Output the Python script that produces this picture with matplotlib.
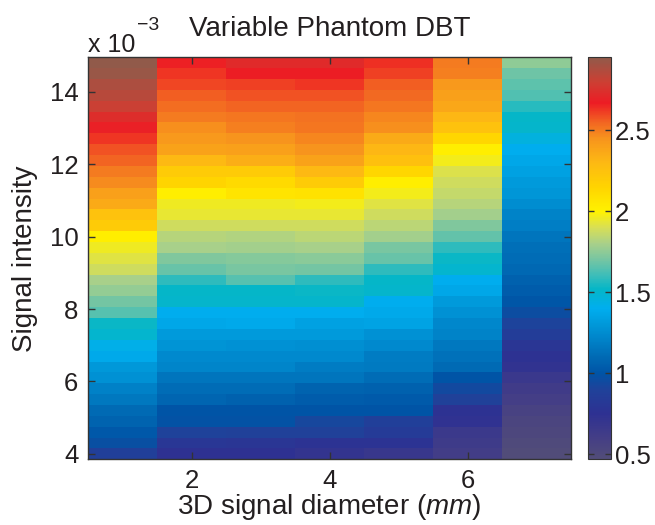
import numpy as np
import matplotlib
matplotlib.use("Agg")
import matplotlib.pyplot as plt
from matplotlib.colors import LinearSegmentedColormap
from matplotlib.ticker import FuncFormatter

plt.rcParams['font.family'] = ['Liberation Sans', 'DejaVu Sans']
plt.rcParams['mathtext.fontset'] = 'custom'
plt.rcParams['mathtext.rm'] = 'Liberation Sans'
plt.rcParams['mathtext.it'] = 'Liberation Sans:italic'

# ---------------- data ----------------
diameters = [1, 2, 3, 4, 5, 6, 7]  # mm
intensity_e3 = [4.0, 4.3, 4.6, 4.9, 5.2, 5.5, 5.8, 6.1, 6.4, 6.7, 7.0, 7.3, 7.6,
                7.9, 8.2, 8.5, 8.8, 9.1, 9.4, 9.7, 10.0, 10.3, 10.6, 10.9, 11.2,
                11.5, 11.8, 12.1, 12.4, 12.7, 13.0, 13.3, 13.6, 13.9, 14.2, 14.5, 14.8]

# values per diameter column, listed from top (14.8e-3) to bottom (4.0e-3)
d1 = [2.95, 2.93, 2.88, 2.85, 2.80, 2.73, 2.68, 2.63, 2.58, 2.55, 2.50, 2.47, 2.40,
      2.36, 2.25, 2.20, 2.02, 1.96, 1.92, 1.88, 1.80, 1.76, 1.70, 1.65, 1.53, 1.50,
      1.42, 1.38, 1.30, 1.27, 1.20, 1.16, 1.10, 1.07, 1.02, 0.97, 0.88]
d2 = [2.66, 2.63, 2.60, 2.56, 2.53, 2.50, 2.46, 2.43, 2.39, 2.30, 2.20, 2.15, 2.02,
      1.96, 1.94, 1.88, 1.83, 1.80, 1.72, 1.68, 1.58, 1.52, 1.51, 1.40, 1.37, 1.31,
      1.28, 1.24, 1.22, 1.15, 1.11, 1.08, 1.00, 0.99, 0.90, 0.80, 0.75]
d3 = [2.72, 2.67, 2.61, 2.58, 2.55, 2.51, 2.49, 2.45, 2.40, 2.34, 2.20, 2.12, 2.07,
      1.96, 1.94, 1.88, 1.82, 1.79, 1.73, 1.71, 1.65, 1.52, 1.51, 1.40, 1.38, 1.31,
      1.27, 1.24, 1.22, 1.15, 1.11, 1.06, 1.00, 0.99, 0.89, 0.79, 0.75]
d4 = [2.72, 2.67, 2.63, 2.58, 2.55, 2.52, 2.51, 2.48, 2.45, 2.39, 2.30, 2.20, 2.08,
      1.97, 1.94, 1.88, 1.84, 1.80, 1.74, 1.70, 1.58, 1.53, 1.51, 1.40, 1.34, 1.31,
      1.26, 1.24, 1.18, 1.15, 1.07, 1.04, 1.00, 0.93, 0.89, 0.77, 0.72]
d5 = [2.64, 2.61, 2.56, 2.54, 2.51, 2.48, 2.46, 2.36, 2.31, 2.26, 2.14, 2.02, 1.97,
      1.92, 1.88, 1.84, 1.79, 1.71, 1.68, 1.58, 1.52, 1.51, 1.40, 1.38, 1.35, 1.27,
      1.24, 1.18, 1.17, 1.11, 1.06, 1.03, 1.00, 0.88, 0.84, 0.77, 0.68]
d6 = [2.50, 2.49, 2.43, 2.40, 2.37, 2.31, 2.25, 2.14, 2.02, 1.97, 1.91, 1.88, 1.86,
      1.83, 1.79, 1.72, 1.67, 1.58, 1.53, 1.50, 1.40, 1.37, 1.31, 1.27, 1.23, 1.21,
      1.16, 1.13, 1.10, 1.00, 0.94, 0.89, 0.76, 0.74, 0.66, 0.64, 0.62]
d7 = [1.75, 1.69, 1.66, 1.64, 1.57, 1.52, 1.51, 1.45, 1.40, 1.37, 1.34, 1.31, 1.29,
      1.25, 1.21, 1.19, 1.15, 1.12, 1.11, 1.09, 1.06, 1.04, 1.01, 0.96, 0.91, 0.86,
      0.79, 0.76, 0.73, 0.67, 0.63, 0.60, 0.57, 0.54, 0.52, 0.50, 0.48]

yticks_e3 = [4, 6, 8, 10, 12, 14]
xticks = [2, 4, 6]
cbar_ticks = [0.5, 1, 1.5, 2, 2.5]
vmin, vmax = 0.47, 2.95

# ---------------- colormap ----------------
anchors = [(0.47, '#524d78'), (0.60, '#443e86'), (0.75, '#2e3192'), (0.90, '#1f429a'),
           (1.00, '#0054a6'), (1.10, '#006ab4'), (1.20, '#0081c7'), (1.30, '#0098d9'),
           (1.40, '#00aeef'), (1.52, '#05b6c7'), (1.60, '#3abdba'), (1.70, '#75c5a3'),
           (1.80, '#a8d08a'), (1.90, '#d8df55'), (2.00, '#fff200'), (2.15, '#ffd400'),
           (2.30, '#fdb913'), (2.45, '#f7941d'), (2.55, '#f26522'), (2.67, '#ed1c24'),
           (2.80, '#cc3f33'), (2.95, '#915a4a')]
cmap = LinearSegmentedColormap.from_list(
    'custom', [((v - vmin) / (vmax - vmin), c) for v, c in anchors], N=512)

# ---------------- figure ----------------
W, H = 655, 525
fig = plt.figure(figsize=(W / 100, H / 100), dpi=100)
ax = fig.add_axes([88 / W, 1 - 459.3 / H, 483 / W, 402 / H])
cax = fig.add_axes([588 / W, 1 - 459.3 / H, 23 / W, 402 / H])

Z = np.array([d1, d2, d3, d4, d5, d6, d7]).T[::-1]  # rows bottom->top
y = np.array(intensity_e3) * 1e-3
mesh = ax.pcolormesh(diameters, y, Z, cmap=cmap, vmin=vmin, vmax=vmax,
                     shading='nearest')

ax.set_xlim(0.5, 7.5)
ax.set_ylim(3.85e-3, 14.95e-3)
ax.set_xticks(xticks)
ax.set_yticks(np.array(yticks_e3) * 1e-3)
ax.yaxis.set_major_formatter(FuncFormatter(lambda v, p: f"{v * 1e3:.0f}"))

tc = '#231f20'
for a in (ax, cax):
    for s in a.spines.values():
        s.set_color('#333333')
        s.set_linewidth(1.0)
ax.tick_params(direction='in', length=5, width=1, colors='#333333',
               labelcolor=tc, labelsize=18.5, top=True, right=True, pad=7)

cb = fig.colorbar(mesh, cax=cax, ticks=cbar_ticks)
cb.outline.set_edgecolor('#333333')
cb.ax.set_yticklabels(['0.5', '1', '1.5', '2', '2.5'])
cax.tick_params(direction='in', length=4, width=1, colors='#333333',
                labelcolor=tc, labelsize=18.5, left=True, right=True, pad=3)

ax.set_title('Variable Phantom DBT', fontsize=20, color=tc, pad=15)
ax.set_xlabel(r'3D signal diameter ($\mathit{mm}$)', fontsize=20, color=tc, labelpad=-1)
ax.set_ylabel('Signal intensity', fontsize=20, color=tc, labelpad=8)
fig.text(88 / W, 1 - 52 / H, 'x 10', fontsize=18, color=tc,
         ha='left', va='baseline')
fig.text(137 / W, 1 - 30 / H, '\u22123', fontsize=14, color=tc,
         ha='left', va='baseline')

fig.savefig('out.png', dpi=100)
